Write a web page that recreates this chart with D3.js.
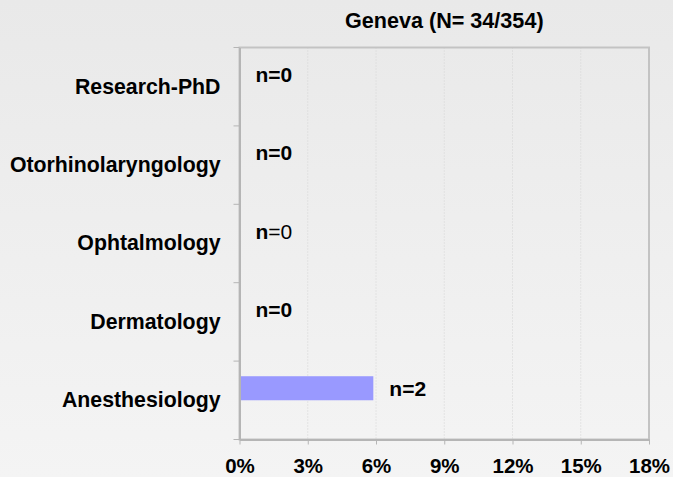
<!DOCTYPE html>
<html>
<head>
<meta charset="utf-8">
<script src="https://cdn.jsdelivr.net/npm/d3@7/dist/d3.min.js"></script>
<style>
  html, body { margin: 0; padding: 0; }
  body { width: 673px; height: 477px; overflow: hidden; }
  text { font-family: Arial, "Liberation Sans", sans-serif; font-weight: bold; fill: #000; }
</style>
</head>
<body>
<svg id="chart" width="673" height="477"></svg>
<script>
// Specialties shown, top to bottom
const categories = ["Research-PhD", "Otorhinolaryngology", "Ophtalmology", "Dermatology", "Anesthesiology"];
// Number of respondents choosing each specialty
const counts = [0, 0, 0, 0, 2];
// Respondents in the Geneva sample
const respondents = 34;
const totalSample = 354;
// Percent tick values on the x axis
const xTicks = [0, 3, 6, 9, 12, 15, 18];
// Labels where only the "n" is set in bold
const plainValueLabel = ["Ophtalmology"];

const W = 673, H = 477;
const margin = { top: 47.5, right: 24, bottom: 37.5, left: 239.5 };
const svg = d3.select("#chart");

// Soft vertical gradient background
const defs = svg.append("defs");
const grad = defs.append("linearGradient").attr("id", "bg").attr("x1", 0).attr("y1", 0).attr("x2", 0).attr("y2", 1);
grad.append("stop").attr("offset", "0%").attr("stop-color", "#e9e9e9");
grad.append("stop").attr("offset", "100%").attr("stop-color", "#f4f4f4");
svg.append("rect").attr("width", W).attr("height", H).attr("fill", "url(#bg)");

const x = d3.scaleLinear().domain([0, 18]).range([margin.left, W - margin.right]);
const y = d3.scaleBand().domain(categories).range([margin.top, H - margin.bottom]).paddingInner(0).paddingOuter(0);

const data = categories.map((c, i) => ({ cat: c, n: counts[i], pct: counts[i] / respondents * 100 }));

// Dotted vertical gridlines
svg.append("g").selectAll("line").data(xTicks.slice(1, -1)).join("line")
  .attr("x1", d => x(d)).attr("x2", d => x(d))
  .attr("y1", margin.top).attr("y2", H - margin.bottom)
  .attr("stroke", "#d4d4d4").attr("stroke-width", 1).attr("stroke-dasharray", "1,2");

// Bars (first slot of each category band)
const bw = y.bandwidth();
svg.append("g").selectAll("rect").data(data.filter(d => d.n > 0)).join("rect")
  .attr("x", x(0))
  .attr("y", d => y(d.cat) + bw * 0.193)
  .attr("width", d => x(d.pct) - x(0))
  .attr("height", bw * 0.3065)
  .attr("fill", "#9999ff");

// Plot frame
svg.append("rect")
  .attr("x", x(0)).attr("y", margin.top)
  .attr("width", x(18) - x(0)).attr("height", H - margin.bottom - margin.top)
  .attr("fill", "none").attr("stroke", "#c3c3c3").attr("stroke-width", 2);

// X axis
const xAxis = d3.axisBottom(x).tickValues(xTicks).tickFormat(d => d + "%").tickSize(5).tickSizeOuter(0);
const gx = svg.append("g").attr("transform", `translate(0,${H - margin.bottom})`).call(xAxis);
gx.select(".domain").attr("stroke", "#b5b5b5").attr("stroke-width", 2);
gx.selectAll(".tick line").attr("stroke", "#b5b5b5");
gx.selectAll(".tick text").attr("font-size", 20.5).attr("font-family", null).attr("dy", null).attr("y", 33);

// Y axis: category labels, ticks on band boundaries
const gy = svg.append("g").attr("transform", `translate(${x(0)},0)`).call(d3.axisLeft(y).tickSize(0).tickPadding(19));
gy.select(".domain").attr("stroke", "#b5b5b5").attr("stroke-width", 2);
gy.selectAll(".tick text").attr("font-size", 21.3).attr("font-family", null);
svg.append("g").selectAll("line").data(categories).join("line")
  .attr("x1", x(0) - 6).attr("x2", x(0))
  .attr("y1", d => y(d)).attr("y2", d => y(d))
  .attr("stroke", "#b5b5b5").attr("stroke-width", 1);
svg.append("line")
  .attr("x1", x(0) - 6).attr("x2", x(0))
  .attr("y1", H - margin.bottom).attr("y2", H - margin.bottom)
  .attr("stroke", "#b5b5b5").attr("stroke-width", 1);

// Value labels at bar ends
const lbl = svg.append("g").selectAll("text").data(data).join("text")
  .attr("x", d => x(d.pct) + 16)
  .attr("y", d => y(d.cat) + bw * 0.193 + bw * 0.3065 / 2)
  .attr("dy", "0.35em")
  .attr("font-size", 21);
lbl.append("tspan").text("n");
lbl.append("tspan")
  .attr("font-weight", d => plainValueLabel.includes(d.cat) ? "normal" : "bold")
  .text(d => "=" + d.n);

// Title
svg.append("text")
  .attr("x", (x(0) + x(18)) / 2).attr("y", 28)
  .attr("text-anchor", "middle").attr("font-size", 21.6)
  .text(`Geneva (N= ${respondents}/${totalSample})`);
</script>
</body>
</html>
